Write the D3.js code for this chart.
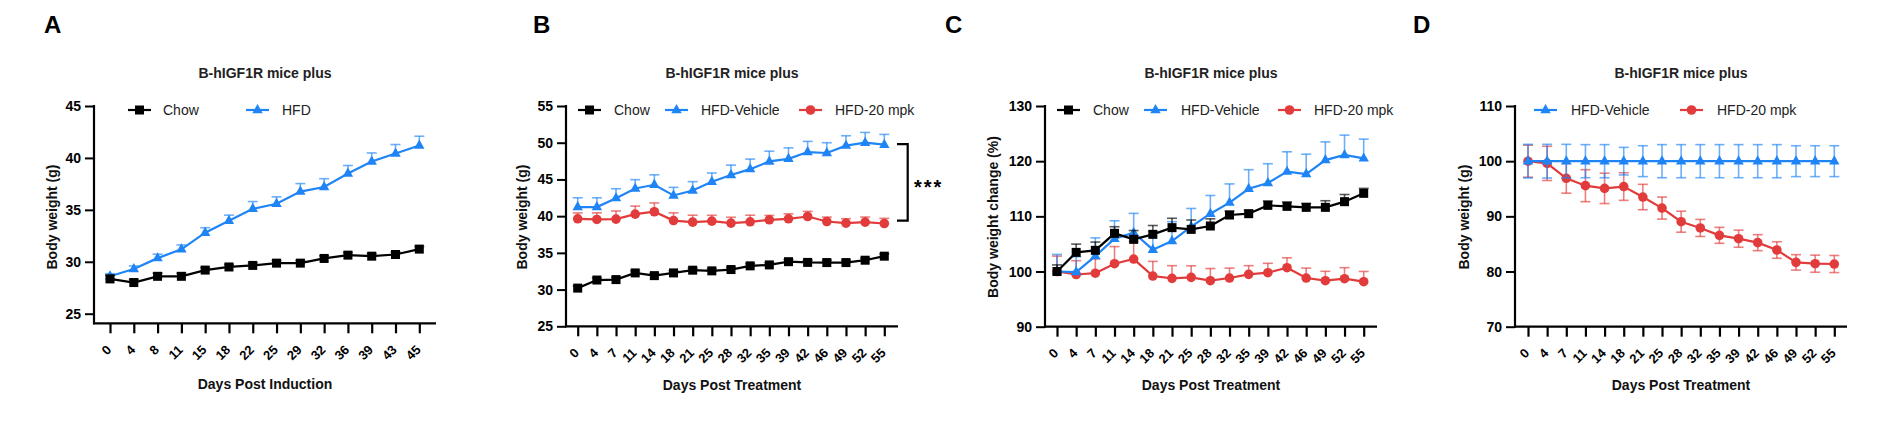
<!DOCTYPE html>
<html><head><meta charset="utf-8">
<script src="https://cdn.jsdelivr.net/npm/d3@7"></script>
<style>
html,body{margin:0;padding:0;background:#fff;}
svg{display:block;font-family:"Liberation Sans",Arial,sans-serif;}
</style></head>
<body>
<svg id="chart" width="1893" height="440"></svg>
<script>
// ---------- data ----------
const daysA = ["0","4","8","11","15","18","22","25","29","32","36","39","43","45"];
const daysT = ["0","4","7","11","14","18","21","25","28","32","35","39","42","46","49","52","55"];

const ticksA = [25,30,35,40,45];
const ticksB = [25,30,35,40,45,50,55];
const ticksC = [90,100,110,120,130];
const ticksD = [70,80,90,100,110];

const seriesNames = ["Chow","HFD","HFD-Vehicle","HFD-20 mpk"];

// Panel A
const aChow    = [28.35,28.0,28.6,28.6,29.2,29.5,29.65,29.87,29.87,30.32,30.64,30.54,30.7,31.22];
const aChowErr = [0.35,0.3,0.3,0.3,0.25,0.25,0.25,0.25,0.25,0.25,0.25,0.25,0.25,0.25];
const aHFD     = [28.6,29.3,30.35,31.2,32.8,33.94,35.1,35.58,36.76,37.2,38.5,39.65,40.42,41.19];
const aHFDErr  = [0.25,0.3,0.38,0.42,0.48,0.55,0.7,0.67,0.77,0.8,0.77,0.83,0.87,0.9];

// Panel B
const bChow    = [30.2,31.3,31.36,32.27,31.9,32.27,32.64,32.55,32.73,33.23,33.36,33.8,33.7,33.68,33.68,34.0,34.55];
const bChowErr = [0.3,0.3,0.3,0.3,0.3,0.3,0.3,0.3,0.3,0.3,0.3,0.3,0.3,0.3,0.3,0.3,0.3];
const bVeh     = [41.23,41.23,42.45,43.77,44.27,42.82,43.5,44.68,45.6,46.4,47.45,47.8,48.73,48.6,49.6,50.0,49.73];
const bVehErr  = [1.27,1.27,1.28,1.2,1.36,1.1,1.2,1.2,1.35,1.37,1.4,1.5,1.45,1.4,1.35,1.4,1.4];
const bMpk     = [39.64,39.55,39.6,40.27,40.6,39.4,39.18,39.32,39.05,39.23,39.5,39.64,39.95,39.27,39.05,39.18,39.0];
const bMpkErr  = [0.8,0.9,1.1,1.1,1.2,1.05,0.95,0.8,0.8,0.9,0.6,0.68,0.7,0.6,0.6,0.7,0.7];
const bBracket = [49.8, 39.4];
const bSignif  = "***";

// Panel C
const cChow    = [100.0,103.47,103.84,106.92,105.83,106.74,107.95,107.64,108.25,110.24,110.48,111.99,111.81,111.63,111.63,112.66,114.17];
const cChowErr = [1.2,1.5,1.5,1.2,1.6,1.6,1.7,1.7,1.3,0.7,0.6,0.8,0.8,0.7,1.2,1.3,0.9];
const cVeh     = [100.0,99.9,102.8,105.95,107.04,103.96,105.53,108.13,110.48,112.48,115.0,116.04,118.1,117.67,120.2,121.12,120.5];
const cVehErr  = [3.1,2.8,3.3,3.25,3.5,3.3,3.5,3.3,3.3,3.4,3.46,3.5,3.6,3.6,3.3,3.6,3.5];
const cMpk     = [100.0,99.46,99.7,101.42,102.26,99.18,98.76,98.94,98.34,98.82,99.49,99.79,100.69,98.82,98.34,98.7,98.16];
const cMpkErr  = [2.8,2.5,2.6,3.1,3.2,2.66,2.3,2.1,2.2,1.8,1.57,1.7,1.8,1.8,1.7,2.0,1.85];

// Panel D
const dVeh     = [100,100,100,100,100,100,100,100,100,100,100,100,100,100,100,100,100];
const dVehErr  = [3.05,3.05,3.05,3.0,3.0,2.5,2.8,3.0,3.0,3.0,3.0,3.0,3.0,3.0,2.8,2.8,2.8];
const dMpk     = [100.0,99.6,96.9,95.56,95.07,95.4,93.5,91.5,89.03,87.9,86.56,85.95,85.23,83.9,81.66,81.42,81.36];
const dMpkErr  = [2.9,3.1,2.7,2.9,2.75,2.5,2.3,2.0,1.9,1.55,1.45,1.55,1.45,1.5,1.4,1.55,1.55];

// ---------- styles ----------
const BLACK = "#000000", BLUE = "#1f84f5", RED = "#e23b3b";
const svg = d3.select("#chart");

function marker(g, shape, x, y, color) {
  if (shape === "square") {
    g.append("rect").attr("x", x-4.5).attr("y", y-4.5).attr("width", 9).attr("height", 9).attr("fill", color);
  } else if (shape === "triangle") {
    g.append("path").attr("d", `M${x},${y-6} L${x+5.2},${y+3.2} L${x-5.2},${y+3.2} Z`).attr("fill", color);
  } else {
    g.append("circle").attr("cx", x).attr("cy", y).attr("r", 4.8).attr("fill", color);
  }
}

function panel(cfg) {
  const g = svg.append("g");
  const x = d3.scalePoint().domain(cfg.cats).range([cfg.tx0, cfg.tx1]);
  const y = d3.scaleLinear().domain(cfg.yDom).range(cfg.yRange);

  // letter
  g.append("text").attr("x", cfg.letterX).attr("y", 33).attr("font-size", 24).attr("font-weight", "bold")
    .text(cfg.letter);
  // title
  const cx = (cfg.ax0 + cfg.ax1) / 2;
  g.append("text").attr("x", cx).attr("y", 78).attr("text-anchor", "middle").attr("font-size", 14)
    .attr("font-weight", "bold").attr("fill", "#222").text("B-hIGF1R mice plus");

  // y axis
  const yAxis = d3.axisLeft(y).tickValues(cfg.yTicks).tickSize(9).tickSizeOuter(0).tickPadding(4);
  const ya = g.append("g").attr("transform", `translate(${cfg.ax0},0)`).call(yAxis);
  ya.select(".domain").remove();
  ya.selectAll(".tick line").attr("stroke", "#000").attr("stroke-width", 2);
  ya.selectAll(".tick text").attr("font-size", 14).attr("font-weight", "bold").attr("fill", "#000")
    .attr("font-family", "Liberation Sans, Arial, sans-serif");
  g.append("line").attr("x1", cfg.ax0).attr("x2", cfg.ax0).attr("y1", cfg.yRange[1]-1).attr("y2", cfg.axisY+1)
    .attr("stroke", "#000").attr("stroke-width", 2.2);

  // x axis
  const xAxis = d3.axisBottom(x).tickSize(10).tickSizeOuter(0);
  const xa = g.append("g").attr("transform", `translate(0,${cfg.axisY})`).call(xAxis);
  xa.select(".domain").remove();
  xa.selectAll(".tick line").attr("stroke", "#000").attr("stroke-width", 2.2);
  xa.selectAll(".tick text").attr("font-size", 13).attr("font-weight", "bold").attr("fill", "#000")
    .attr("font-family", "Liberation Sans, Arial, sans-serif")
    .attr("text-anchor", "end").attr("dy", "0.35em")
    .attr("transform", "translate(-1.5,24) rotate(-45)").attr("y", 0).attr("x", 0);
  g.append("line").attr("x1", cfg.ax0-1).attr("x2", cfg.ax1).attr("y1", cfg.axisY).attr("y2", cfg.axisY)
    .attr("stroke", "#000").attr("stroke-width", 2.2);

  // axis titles
  g.append("text").attr("x", cx).attr("y", cfg.xTitleY).attr("text-anchor", "middle").attr("font-size", 14)
    .attr("font-weight", "bold").attr("fill", "#111").text(cfg.xTitle);
  g.append("text").attr("transform", `translate(${cfg.yTitleX},217) rotate(-90)`).attr("text-anchor", "middle")
    .attr("font-size", 14).attr("font-weight", "bold").attr("fill", "#111").text(cfg.yTitle);

  // series (draw last first)
  const ser = cfg.series.slice().reverse();
  ser.forEach(s => {
    const sg = g.append("g");
    // error bars
    s.vals.forEach((v, i) => {
      const px = x(cfg.cats[i]);
      const top = y(v + s.err[i]);
      const bot = cfg.bothErr ? y(v - s.err[i]) : y(v);
      sg.append("line").attr("x1", px).attr("x2", px).attr("y1", top).attr("y2", bot)
        .attr("stroke", s.color).attr("stroke-width", 1.6).attr("stroke-opacity", 0.65);
      sg.append("line").attr("x1", px-5).attr("x2", px+5).attr("y1", top).attr("y2", top)
        .attr("stroke", s.color).attr("stroke-width", 1.6).attr("stroke-opacity", 0.65);
      if (cfg.bothErr) {
        sg.append("line").attr("x1", px-5).attr("x2", px+5).attr("y1", bot).attr("y2", bot)
          .attr("stroke", s.color).attr("stroke-width", 1.6).attr("stroke-opacity", 0.65);
      }
    });
    const line = d3.line().x((d, i) => x(cfg.cats[i])).y(d => y(d));
    sg.append("path").attr("d", line(s.vals)).attr("fill", "none").attr("stroke", s.color).attr("stroke-width", 2.2);
    s.vals.forEach((v, i) => marker(sg, s.shape, x(cfg.cats[i]), y(v), s.color));
  });

  // legend
  cfg.series.forEach((s, i) => {
    const lx = cfg.legend[i][0], tx = cfg.legend[i][1];
    g.append("line").attr("x1", lx).attr("x2", lx+23).attr("y1", 110).attr("y2", 110)
      .attr("stroke", s.color).attr("stroke-width", 2.2);
    marker(g, s.shape, lx+11.5, 110, s.color);
    g.append("text").attr("x", tx).attr("y", 115).attr("font-size", 14).attr("fill", "#222").text(s.name);
  });
  return {g, x, y};
}

panel({
  letter: "A", letterX: 44, cats: daysA, tx0: 110, tx1: 419.3, ax0: 94, ax1: 436,
  yDom: [25, 45], yRange: [313.7, 106], axisY: 323.3, yTicks: ticksA,
  xTitle: "Days Post Induction", xTitleY: 389, yTitle: "Body weight (g)", yTitleX: 57,
  legend: [[128, 163], [246, 282]],
  series: [
    {name: seriesNames[0], vals: aChow, err: aChowErr, color: BLACK, shape: "square"},
    {name: seriesNames[1], vals: aHFD, err: aHFDErr, color: BLUE, shape: "triangle"}
  ]
});

const pB = panel({
  letter: "B", letterX: 533, cats: daysT, tx0: 577.7, tx1: 884.3, ax0: 566, ax1: 898,
  yDom: [25, 55], yRange: [326.3, 106], axisY: 326.3, yTicks: ticksB,
  xTitle: "Days Post Treatment", xTitleY: 390, yTitle: "Body weight (g)", yTitleX: 527,
  legend: [[578, 614], [665, 701], [799, 835]],
  series: [
    {name: seriesNames[0], vals: bChow, err: bChowErr, color: BLACK, shape: "square"},
    {name: seriesNames[2], vals: bVeh, err: bVehErr, color: BLUE, shape: "triangle"},
    {name: seriesNames[3], vals: bMpk, err: bMpkErr, color: RED, shape: "circle"}
  ]
});
// significance bracket
{
  const y1 = pB.y(bBracket[0]), y2 = pB.y(bBracket[1]);
  pB.g.append("path").attr("d", `M897,${y1} H907.7 V${y2} H897`).attr("fill", "none")
    .attr("stroke", "#000").attr("stroke-width", 2.2);
  pB.g.append("text").attr("x", 914).attr("y", (y1 + y2) / 2 + 12).attr("font-size", 20)
    .attr("letter-spacing", 2).attr("font-weight", "bold").text(bSignif);
}

panel({
  letter: "C", letterX: 945, cats: daysT, tx0: 1057, tx1: 1363.7, ax0: 1045, ax1: 1377,
  yDom: [90, 130], yRange: [326.7, 106], axisY: 326.7, yTicks: ticksC,
  xTitle: "Days Post Treatment", xTitleY: 390, yTitle: "Body weight change (%)", yTitleX: 998,
  legend: [[1057, 1093], [1144, 1181], [1278, 1314]],
  series: [
    {name: seriesNames[0], vals: cChow, err: cChowErr, color: BLACK, shape: "square"},
    {name: seriesNames[2], vals: cVeh, err: cVehErr, color: BLUE, shape: "triangle"},
    {name: seriesNames[3], vals: cMpk, err: cMpkErr, color: RED, shape: "circle"}
  ]
});

panel({
  letter: "D", letterX: 1413, cats: daysT, tx0: 1528, tx1: 1834.3, ax0: 1515, ax1: 1847,
  yDom: [70, 110], yRange: [326.7, 106], axisY: 326.7, yTicks: ticksD, bothErr: true,
  xTitle: "Days Post Treatment", xTitleY: 390, yTitle: "Body weight (g)", yTitleX: 1469,
  legend: [[1534, 1571], [1680, 1717]],
  series: [
    {name: seriesNames[2], vals: dVeh, err: dVehErr, color: BLUE, shape: "triangle"},
    {name: seriesNames[3], vals: dMpk, err: dMpkErr, color: RED, shape: "circle"}
  ]
});
</script>
</body></html>
